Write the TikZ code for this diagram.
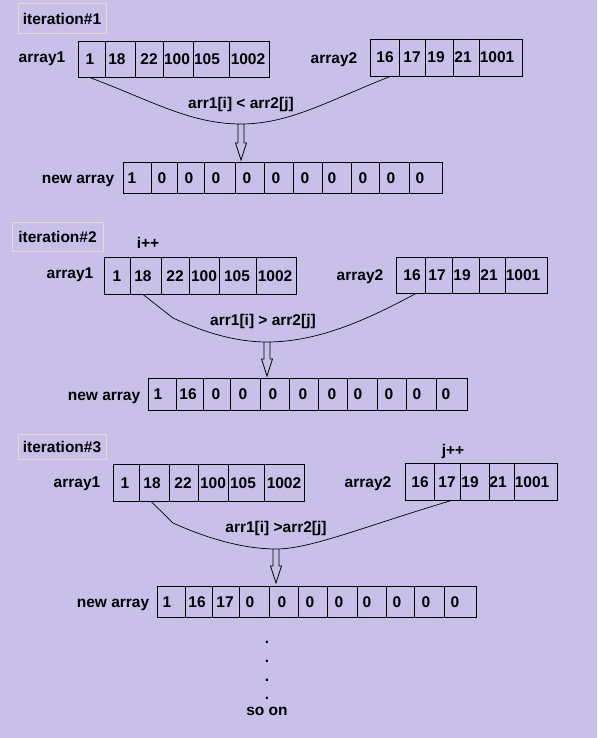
\documentclass[tikz,border=0pt]{standalone}
\usepackage{fontspec}
\setmainfont{Liberation Sans}
\definecolor{bg}{RGB}{200,192,232}
\definecolor{tanb}{RGB}{232,220,200}
\tikzset{
  cellbox/.style={draw=black, line width=0.8pt, inner sep=0pt, anchor=north west},
  txt/.style={font=\fontsize{15.5}{18}\selectfont\bfseries, inner sep=0pt, text height=11pt, text depth=0pt},
  iterbox/.style={txt, draw=tanb, line width=1pt},
  link/.style={draw=black, line width=0.7pt},
  hollow/.style={draw=black, line width=0.8pt, line join=miter}
}
\newcommand\arrline[4]{%
  \foreach \l/\r/\tx/\t [count=\k] in {#4} {
    \node[cellbox, minimum width={(\r-\l)*1pt}, minimum height={(#3-#2)*1pt}] (#1c\k) at (\l,#2) {};
    \node[txt] (#1t\k) at (\tx,{(#2+#3)/2}) {\t};
  }}
\begin{document}
\begin{tikzpicture}[x=1pt,y=-1pt]
\useasboundingbox (0,0) rectangle (597,738);
\fill[bg] (0,0) rectangle (597,738);

% ---------- iteration 1
\node[iterbox, minimum width=88pt, minimum height=30pt] (it1) at (62,19) {iteration\#1};
\node[txt] (lab1a) at (42,57) {array1};
\node[txt] (lab1b) at (334,58) {array2};
\node[txt] (lab1n) at (78,178) {new array};
\arrline{pa}{41}{77}{78/105/90/1, 105/135/117/18, 135/163/149/22, 163/193/177/100, 193/229/207/105, 229/269/248/1002}
\arrline{pb}{39}{76}{370/399/385/16, 399/425/412/17, 425/453/436/19, 453/479/463/21, 479/522/497/1001}
\arrline{pn}{162}{193}{123/151/132/1, 151/177/162/0, 177/204/189/0, 204/235/216/0, 235/264/247/0, 264/293/276/0, 293/322/305/0, 322/351/332/0, 351/379/363/0, 379/409/391/0, 409/442/420/0}
\coordinate (m1) at (241,124);
\draw[link] ([xshift=-1.5pt]pac1.south) .. controls (150,100) and (190,124) .. (m1)
  .. controls (290,124) and (330,100) .. ([xshift=4.5pt]pbc1.south);
\node[txt] (cmp1) at (241,103) {arr1[i] < arr2[j]};
\draw[hollow] (m1) ++(-3,0) -- ++(0,19) -- ++(-2.5,0) -- ++(5.5,17) -- ++(5.5,-17) -- ++(-2.5,0) -- ++(0,-19);

% ---------- iteration 2
\node[iterbox, minimum width=91pt, minimum height=29pt] (it2) at (57.5,236.5) {iteration\#2};
\node[txt] (ipp) at (148,243) {i++};
\node[txt] (lab2a) at (70,273) {array1};
\node[txt] (lab2b) at (360,275) {array2};
\node[txt] (lab2n) at (104,395) {new array};
\arrline{qa}{257}{294}{104/130/117/1, 130/161/143/18, 161/189/175/22, 189/219/204/100, 219/256/237/105, 256/296/275/1002}
\arrline{qb}{257}{293}{396/425/412/16, 425/452/437/17, 452/479/462/19, 479/505/489/21, 505/547/523/1001}
\arrline{qn}{378}{410}{148/176/158/1, 176/203/188/16, 203/230/216/0, 230/260/243/0, 260/289/273/0, 289/318/303/0, 318/347/332/0, 347/377/358/0, 377/406/389/0, 406/436/417/0, 436/467/446/0}
\coordinate (m2) at (267,342);
\coordinate (k2) at (173,318);
\draw[link] ([xshift=-2.5pt]qac2.south) -- (k2) .. controls (210,335) and (240,342) .. (m2)
  .. controls (320,342) and (370,318) .. ([xshift=4.5pt]qbc1.south);
\node[txt] (cmp2) at (263,320) {arr1[i] > arr2[j]};
\draw[hollow] (m2) ++(-3,0) -- ++(0,17) -- ++(-2.5,0) -- ++(5.5,17) -- ++(5.5,-17) -- ++(-2.5,0) -- ++(0,-17);

% ---------- iteration 3
\node[iterbox, minimum width=88pt, minimum height=25pt] (it3) at (62,446.5) {iteration\#3};
\node[txt] (jpp) at (453,450) {j++};
\node[txt] (lab3a) at (77,482) {array1};
\node[txt] (lab3b) at (368,482) {array2};
\node[txt] (lab3n) at (113,602) {new array};
\arrline{ra}{464}{501}{113/139/125/1, 139/169/152/18, 169/198/183/22, 198/228/213/100, 228/264/243/105, 264/304/284/1002}
\arrline{rb}{463}{500}{405/434/420/16, 434/460/447/17, 460/489/470/19, 489/514/498/21, 514/557/532/1001}
\arrline{rn}{586}{617}{157/185/167/1, 185/212/197/16, 212/239/225/17, 239/269/250/0, 269/298/282/0, 298/327/310/0, 327/357/339/0, 357/386/367/0, 386/414/397/0, 414/444/426/0, 444/476/455/0}
\coordinate (m3) at (276,549);
\coordinate (k3) at (173,523);
\draw[link] ([xshift=-3pt]rac2.south) -- (k3) .. controls (215,542) and (250,549) .. (m3)
  .. controls (310,549) and (360,528) .. ([xshift=3pt]rbc2.south);
\node[txt] (cmp3) at (276,527) {arr1[i] >arr2[j]};
\draw[hollow] (m3) ++(-3,0) -- ++(0,17) -- ++(-2.5,0) -- ++(5.5,17) -- ++(5.5,-17) -- ++(-2.5,0) -- ++(0,-17);

% ---------- so on
\node[txt, anchor=base] (d1) at (267,643) {.};
\node[txt, anchor=base] (d2) at (267,662) {.};
\node[txt, anchor=base] (d3) at (267,681) {.};
\node[txt, anchor=base] (d4) at (267,699) {.};
\node[txt] (soon) at (267,710) {so on};
\end{tikzpicture}
\end{document}
